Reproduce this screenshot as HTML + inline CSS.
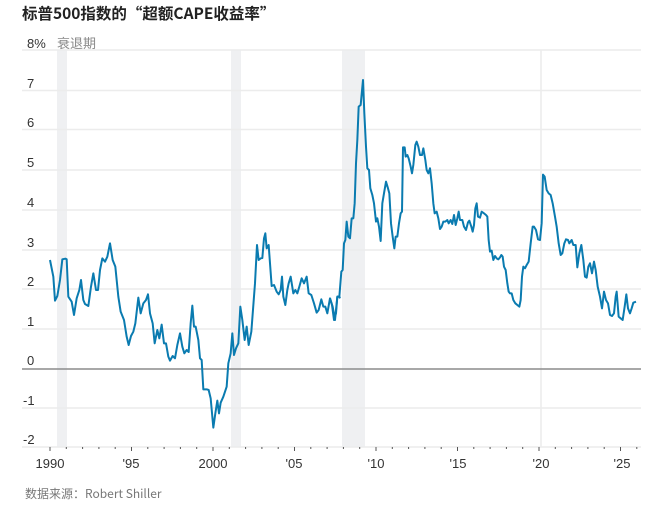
<!DOCTYPE html>
<html><head><meta charset="utf-8"><style>
body{margin:0;background:#fff;width:651px;height:506px;overflow:hidden;font-family:"Liberation Sans","Noto Sans CJK SC",sans-serif}
</style></head><body>
<svg width="651" height="506" xmlns="http://www.w3.org/2000/svg" font-family="Liberation Sans, Noto Sans CJK SC, sans-serif">
<text x="22" y="19" font-size="15.5" font-weight="bold" fill="#222" font-family="Noto Sans CJK SC, sans-serif">标普500指数的“超额CAPE收益率”</text>
<!-- recession bands -->
<rect x="57" y="50" width="10" height="397" fill="#eff0f2"/>
<rect x="231" y="50" width="10" height="397" fill="#eff0f2"/>
<rect x="342" y="50" width="23" height="397" fill="#eff0f2"/>
<!-- grid -->
<g stroke="#ececec" stroke-width="1.5">
<line x1="22" x2="641" y1="50" y2="50"/>
<line x1="22" x2="641" y1="90.5" y2="90.5"/>
<line x1="22" x2="641" y1="129.5" y2="129.5"/>
<line x1="22" x2="641" y1="170" y2="170"/>
<line x1="22" x2="641" y1="210" y2="210"/>
<line x1="22" x2="641" y1="250" y2="250"/>
<line x1="22" x2="641" y1="289" y2="289"/>
<line x1="22" x2="641" y1="329" y2="329"/>
<line x1="22" x2="641" y1="408" y2="408"/>
<line x1="22" x2="641" y1="447" y2="447"/>
<line x1="541" x2="541" y1="50" y2="447"/>
</g>
<line x1="22" x2="641" y1="369" y2="369" stroke="#8c8c8c" stroke-width="1.5"/>
<g font-size="13" fill="#333">
<text x="27" y="48">8%</text>
<text x="27" y="88">7</text>
<text x="27" y="127">6</text>
<text x="27" y="167">5</text>
<text x="27" y="207">4</text>
<text x="27" y="247">3</text>
<text x="27" y="286">2</text>
<text x="27" y="326">1</text>
<text x="27" y="365">0</text>
<text x="23" y="405">-1</text>
<text x="23" y="444">-2</text>
</g>
<text x="57" y="48" font-size="13" fill="#888" font-family="Noto Sans CJK SC, sans-serif">衰退期</text>
<!-- ticks -->
<g stroke="#555" stroke-width="1">
<path d="M50 447v4M66.3 447v2M82.6 447v2M98.9 447v2M115.2 447v2M131.5 447v4M147.8 447v2M164.1 447v2M180.4 447v2M196.7 447v2M213 447v4M229.3 447v2M245.6 447v2M261.9 447v2M278.2 447v2M294.5 447v4M310.8 447v2M327.1 447v2M343.4 447v2M359.7 447v2M376 447v4M392.3 447v2M408.6 447v2M424.9 447v2M441.2 447v2M457.5 447v4M473.8 447v2M490.1 447v2M506.4 447v2M522.7 447v2M539 447v4M555.3 447v2M571.6 447v2M587.9 447v2M604.2 447v2M620.5 447v4M636.8 447v2"/>
</g>
<g font-size="13" fill="#333" text-anchor="middle">
<text x="50" y="468">1990</text>
<text x="131" y="468">'95</text>
<text x="213" y="468">2000</text>
<text x="294" y="468">'05</text>
<text x="376" y="468">'10</text>
<text x="458" y="468">'15</text>
<text x="541" y="468">'20</text>
<text x="622" y="468">'25</text>
</g>
<g fill="none" stroke="#0a7bb0" stroke-width="2" stroke-linejoin="round">
<polyline vector-effect="non-scaling-stroke" transform="translate(20,30) scale(0.33333)" points="90,690 100,740 105,812 112,798 120,750 127,688 136,686 140,688 145,800 155,815 162,855 170,805 178,780 183,750 190,810 195,822 205,828 213,770 220,730 228,780 234,780 240,720 247,685 255,695 262,680 270,640 278,690 286,710 295,800 302,845 312,870 320,920 326,945 333,918 340,905 346,880 355,803 362,850 370,820 378,810 384,793 390,850 398,880 404,940 412,900 418,925 425,884 432,940 438,940 445,980 450,992 458,978 465,985 472,945 480,910 487,950 493,970 500,960 506,966 512,880 517,827 522,890 527,890 535,930 540,985 545,990 550,1078 560,1078 566,1080 572,1105 580,1193 586,1150 592,1112 597,1150 602,1118 610,1100 620,1070 625,1000 632,970 637,910 642,975 648,955 655,940 661,830 667,870 674,930 680,890 686,945 694,905 705,760 711,645 716,690 722,685 727,684 732,625 736,610 740,655 746,645 750,700 755,768 762,765 770,785 776,793 782,780 786,740 790,800 796,825 802,780 806,760 812,740 820,790 826,780 832,790 838,770 845,745 852,760 860,740 866,790 874,795 882,820 890,848 896,840 904,808 910,830 916,830 922,850 930,805 938,830 945,870 952,800 958,800 960,805"/>
<polyline vector-effect="non-scaling-stroke" transform="translate(330,30) scale(0.33333)" points="0,805 6,825 12,870 18,850 22,800 28,800 34,725 38,720 42,640 46,630 50,575 55,620 60,625 65,565 70,565 74,520 78,400 82,330 86,230 92,225 99,150 103,250 108,350 112,415 117,420 121,475 127,495 132,520 138,575 142,565 147,590 152,633 157,520 162,490 168,455 174,475 178,490 183,580 188,620 193,655 197,620 202,620 207,580 212,550 216,545 219,352 224,352 227,380 232,375 236,385 242,410 246,430 250,405 256,345 260,335 265,350 270,375 276,375 280,355 286,390 290,420 295,430 300,415 305,460 310,520 314,550 320,545 325,565 330,597 335,590 340,575 346,575 352,570 356,580 362,570 367,582 372,555 377,585 382,565 386,545 390,570 397,570 402,590 408,600 414,577 418,572 424,590 428,605 432,585 436,535 440,520 444,560 450,563 455,545 462,550 468,555 472,560 476,630 480,665 485,662 490,690 495,678 500,685 505,688 510,682 514,675 518,680 522,710 527,720 532,760 536,785 540,790 545,790 550,810 556,820 562,825 568,830 572,810 576,740 580,710 585,715 590,705 596,695 602,640 608,590 612,590 618,600 624,628 630,630 635,580 639,434 644,440 650,480 656,490 662,495 668,520 675,560 680,590 686,640 692,675 697,670 703,640 708,628 714,630 718,640 725,630 730,645 737,645 742,712 748,670 754,645 760,690 765,740 770,743 775,710 780,700 786,730 792,695 797,720 803,770 810,800 816,835 822,785 828,810 834,820 840,855 846,858 852,850 857,800 860,785 866,860 872,865 878,870 884,830 889,793 894,835 900,850 905,835 910,818 918,815"/>
</g>
<text x="25" y="498" font-size="12" fill="#777" font-family="Noto Sans CJK SC, sans-serif">数据来源：Robert Shiller</text>
</svg>
</body></html>
